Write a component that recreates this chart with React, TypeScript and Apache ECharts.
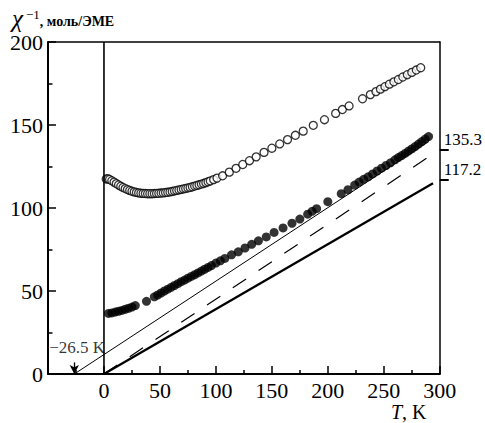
import React, { useEffect, useRef } from "react";
import * as echarts from "echarts";

// Open circles: chi^-1 vs T (upper curve)
const openT = [2, 3.5, 5, 7, 9, 11, 13, 15, 17, 19, 21, 23, 25, 27, 29, 31, 33, 35, 37, 39, 41, 43, 45, 47, 49, 51, 53, 55, 57, 59, 61, 63, 65, 67, 69, 71, 73, 75, 77, 79, 81, 83, 85, 87, 89, 91, 93, 95, 98, 101, 106, 112, 118, 124, 130, 136, 143, 150, 157, 164, 171, 178, 187, 197, 207, 213, 219, 231, 238, 243, 247, 251, 255, 259, 263, 267, 271, 275, 279, 283];
const openChi = [117.5, 117.6, 117.2, 116.4, 115.6, 114.7, 113.9, 113.1, 112.4, 111.7, 111.1, 110.6, 110.1, 109.7, 109.4, 109.1, 108.9, 108.8, 108.7, 108.6, 108.6, 108.6, 108.7, 108.8, 108.9, 109.0, 109.1, 109.3, 109.5, 109.7, 110.0, 110.3, 110.6, 110.9, 111.2, 111.5, 111.8, 112.1, 112.4, 112.8, 113.2, 113.6, 114.0, 114.4, 114.8, 115.3, 115.8, 116.3, 117.1, 118.0, 119.4, 121.6, 123.9, 126.2, 128.5, 130.8, 133.5, 136.0, 138.6, 141.2, 143.8, 146.3, 149.8, 153.2, 157.0, 159.3, 161.5, 165.8, 168.3, 170.1, 171.6, 173.1, 174.6, 176.0, 177.4, 178.9, 180.3, 181.7, 183.1, 184.5];

// Filled circles: chi^-1 vs T (lower curve)
const filledT = [4, 7, 10, 13, 16, 19, 22, 25, 28, 38, 45, 48, 51, 54, 57, 60, 63, 66, 69, 72, 75, 78, 81, 84, 87, 90, 93, 96, 100, 104, 108, 114, 120, 126, 132, 138, 145, 152, 160, 168, 175, 182, 186, 190, 200, 212, 218, 224, 228, 232, 236, 240, 244, 248, 252, 256, 260, 263, 266, 269, 272, 275, 278, 281, 284, 287, 290];
const filledChi = [36.5, 36.8, 37.3, 37.8, 38.3, 39.0, 39.6, 40.3, 41.2, 43.8, 46.5, 47.6, 48.8, 50.0, 51.1, 52.2, 53.3, 54.4, 55.6, 56.6, 57.7, 58.8, 59.8, 60.9, 62.0, 63.1, 64.2, 65.3, 66.8, 68.2, 69.6, 71.8, 73.6, 75.9, 78.1, 80.2, 82.6, 85.3, 88.0, 90.8, 93.3, 96.3, 98.0, 99.6, 103.8, 108.6, 111.0, 113.8, 115.6, 117.3, 118.8, 120.5, 122.3, 124.0, 125.6, 127.2, 129.0, 130.4, 131.6, 132.9, 134.3, 135.6, 137.0, 138.5, 140.0, 141.5, 143.0];

// Straight lines
const thinFitT = [-26.5, 290];
const thinFitChi = [0, 140];
const dashedFitT = [0, 296];
const dashedFitChi = [0, 133.5];
const thickFitT = [0, 294];
const thickFitChi = [0, 114.9];

const thetaK = -26.5;
const thetaArrowChi = [7, 0];
const thetaLabel = "−26.5 K";
const thetaLabelPos = [-23.9, 15.7];

const rightMarks = [117.2, 135.3];
const xTicks = [0, 50, 100, 150, 200, 250, 300];
const yTicks = [0, 50, 100, 150, 200];

const SERIF = "Liberation Serif";

const zip = (a: number[], b: number[]) => a.map((v, i) => [v, b[i]]);

export default function App() {
  const ref = useRef<HTMLDivElement>(null);
  useEffect(() => {
    if (!ref.current) return;
    const chart = echarts.init(ref.current, null, { renderer: "svg" });
    const black = "#000";
    chart.setOption({
      animation: false,
      backgroundColor: "#fff",
      textStyle: { fontFamily: SERIF },
      grid: { left: 48, right: 43, top: 42, bottom: 49, containLabel: false },
      xAxis: [
        {
          type: "value",
          min: -50,
          max: 300,
          interval: 50,
          splitLine: { show: false },
          axisLine: { show: true, onZero: false, lineStyle: { color: black, width: 2 } },
          axisTick: { show: true, inside: true, length: 8, lineStyle: { color: black, width: 1.5 } },
          minorTick: { show: true, splitNumber: 2, length: 4, lineStyle: { color: black, width: 1.5 } },
          axisLabel: {
            color: black,
            fontSize: 22,
            fontFamily: SERIF,
            margin: 5,
            customValues: xTicks,
            formatter: (v: number) => String(v),
          },
        },
        {
          type: "value",
          position: "top",
          min: -50,
          max: 300,
          splitLine: { show: false },
          axisLine: { show: true, onZero: false, lineStyle: { color: black, width: 1.5 } },
          axisTick: { show: false },
          axisLabel: { show: false },
        },
      ],
      yAxis: [
        {
          type: "value",
          min: 0,
          max: 200,
          interval: 50,
          splitLine: { show: false },
          axisLine: { show: true, onZero: false, lineStyle: { color: black, width: 2 } },
          axisTick: { show: true, inside: true, length: 8, lineStyle: { color: black, width: 1.5 } },
          minorTick: { show: true, splitNumber: 2, length: 4.5, lineStyle: { color: black, width: 1.5 } },
          axisLabel: {
            color: black,
            fontSize: 22,
            fontFamily: SERIF,
            margin: 5,
            customValues: yTicks,
          },
        },
        {
          type: "value",
          position: "right",
          min: 0,
          max: 200,
          splitLine: { show: false },
          axisLine: { show: true, onZero: false, lineStyle: { color: black, width: 1.5 } },
          axisTick: {
            show: true,
            inside: false,
            length: 9,
            customValues: rightMarks,
            lineStyle: { color: black, width: 2 },
          },
          axisLabel: {
            show: true,
            color: black,
            fontSize: 17,
            fontFamily: SERIF,
            margin: 4,
            verticalAlign: "bottom",
            padding: [0, 0, 1, 0],
            customValues: rightMarks,
            formatter: (v: number) => v.toFixed(1),
          },
        },
      ],
      series: [
        {
          type: "line",
          data: [[0, 0], [0, 200]],
          symbol: "none",
          lineStyle: { color: black, width: 1.6 },
          silent: true,
        },
        {
          type: "line",
          data: zip(thinFitT, thinFitChi),
          symbol: "none",
          lineStyle: { color: black, width: 1 },
          silent: true,
        },
        {
          type: "line",
          data: zip(dashedFitT, dashedFitChi),
          symbol: "none",
          lineStyle: { color: black, width: 1.2, type: [16, 15] },
          silent: true,
        },
        {
          type: "line",
          data: zip(thickFitT, thickFitChi),
          symbol: "none",
          lineStyle: { color: black, width: 2.3 },
          silent: true,
        },
        {
          type: "line",
          data: [[thetaK, thetaArrowChi[1]]],
          symbol: "none",
          lineStyle: { width: 0 },
          silent: true,
          markLine: {
            silent: true,
            symbol: ["none", "arrow"],
            symbolSize: [7, 9],
            label: { show: false },
            lineStyle: { color: black, width: 1.3, type: "solid" },
            data: [[{ coord: [thetaK, thetaArrowChi[0]] }, { coord: [thetaK, thetaArrowChi[1]] }]],
          },
        },
        {
          type: "scatter",
          data: [thetaLabelPos],
          symbolSize: 0,
          silent: true,
          label: {
            show: true,
            position: "inside",
            formatter: thetaLabel,
            color: black,
            fontSize: 17,
            fontFamily: SERIF,
          },
        },
        {
          type: "scatter",
          data: zip(openT, openChi),
          symbol: "circle",
          symbolSize: 8,
          itemStyle: { color: "#fff", borderColor: black, borderWidth: 1.3 },
          silent: true,
        },
        {
          type: "scatter",
          data: zip(filledT, filledChi),
          symbol: "circle",
          symbolSize: 9,
          itemStyle: { color: black },
          silent: true,
        },
      ],
      graphic: [
        {
          type: "text",
          style: {
            x: 12,
            y: 18,
            text: "{chi|χ}{sup|−1}{rest|, моль/ЭМЕ}",
            verticalAlign: "middle",
            rich: {
              chi: {
                fontFamily: SERIF, fontSize: 25, fontStyle: "italic", fill: black,
                lineHeight: 20,
              },
              sup: {
                fontFamily: SERIF, fontSize: 13, fill: black, lineHeight: 13,
                verticalAlign: "top", padding: [0, 0, 0, 3],
              },
              rest: {
                fontFamily: SERIF, fontSize: 14, fontWeight: "bold", fill: black,
                lineHeight: 14, verticalAlign: "bottom",
              },
            },
          },
        },
        {
          type: "text",
          style: {
            x: 391,
            y: 412,
            text: "{i|T}{n|, K}",
            verticalAlign: "middle",
            rich: {
              i: { fontFamily: SERIF, fontSize: 20, fontStyle: "italic", fill: black },
              n: { fontFamily: SERIF, fontSize: 20, fill: black },
            },
          },
        },
      ],
    });
    return () => chart.dispose();
  }, []);
  return (
    <div
      ref={ref}
      style={{ position: "absolute", left: 0, top: 0, width: 485, height: 423, background: "#fff" }}
    />
  );
}
